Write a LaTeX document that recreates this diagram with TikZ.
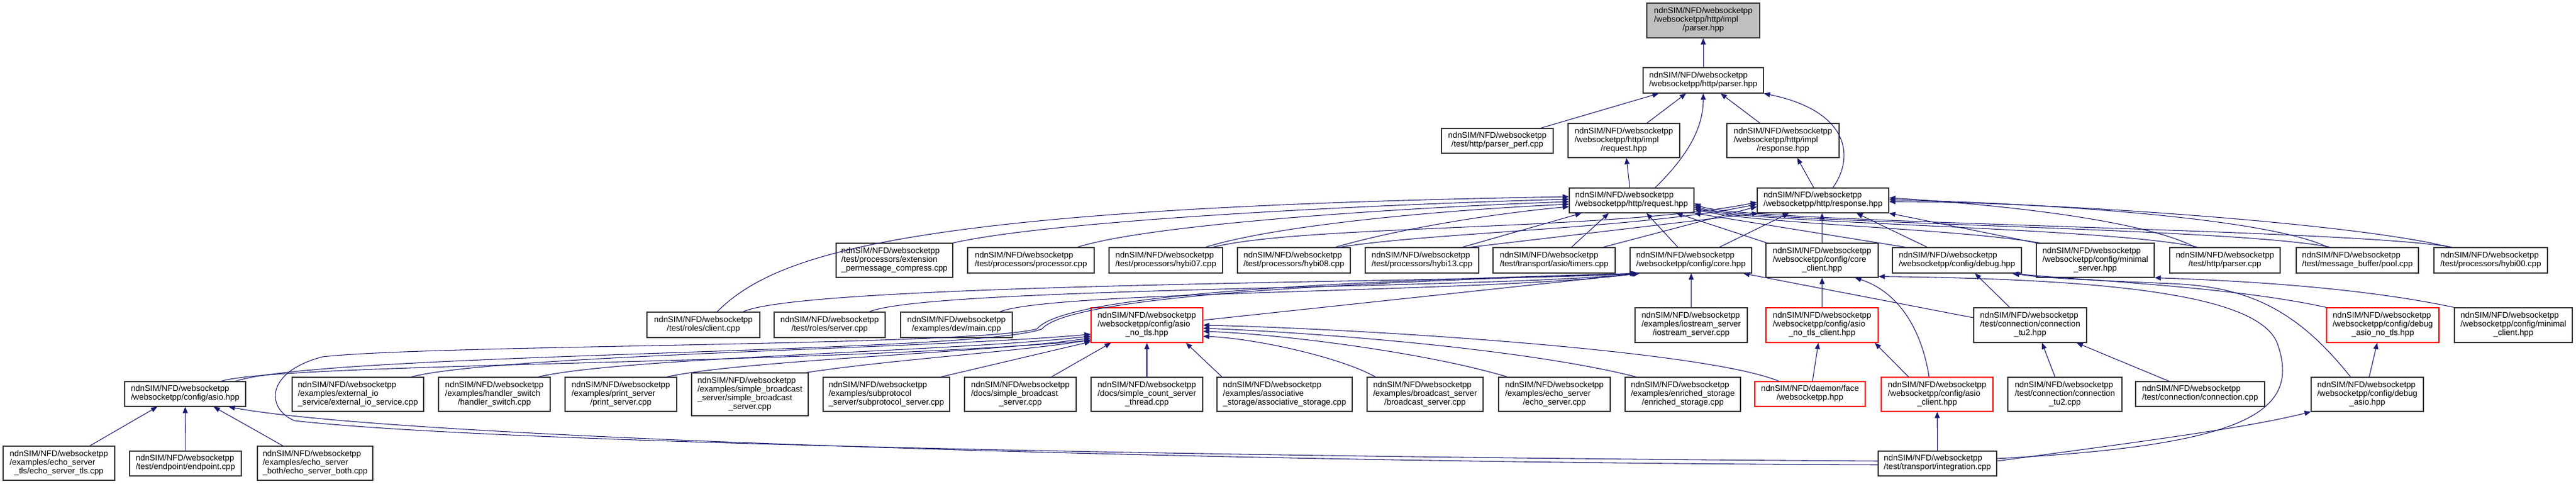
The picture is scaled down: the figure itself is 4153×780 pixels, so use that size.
\documentclass[tikz,border=0pt]{standalone}
\usepackage{fontspec}
\setmainfont{Liberation Sans}
\usetikzlibrary{arrows.meta,calc}
\definecolor{mblue}{RGB}{25,25,112}
\renewcommand{\arraystretch}{0.9375}
\newcommand{\labA}[2]{\begin{tabular}{@{}l@{}}#1\\\multicolumn{1}{@{}c@{}}{#2}\end{tabular}}
\newcommand{\labB}[3]{\begin{tabular}{@{}l@{}}#1\\#2\\\multicolumn{1}{@{}c@{}}{#3}\end{tabular}}
\newcommand{\labC}[4]{\begin{tabular}{@{}l@{}}#1\\#2\\#3\\\multicolumn{1}{@{}c@{}}{#4}\end{tabular}}
\newcommand{\bn}[6]{\node[nbox,#2,minimum width={(#5-#3)*0.75pt},minimum height={(#6-#4)*0.75pt}] (#1) at ({(#3+#5)/2},{(#4+#6)/2})}
\newcommand{\nw}{ndnSIM/NFD/websocketpp}
\begin{document}
\begin{tikzpicture}[x=0.75pt,y=-0.75pt,
  nbox/.style={draw=black!80,line width=0.9pt,fill=white,inner sep=0pt,font=\fontsize{10}{11.25}\selectfont},
  redb/.style={draw=red},
  grayb/.style={fill=black!25},
  dep/.style={draw=mblue,line width=0.8pt,-{Triangle[length=7.5pt,width=6pt]}}]
\useasboundingbox (0,0) rectangle (4153,780);
% ---- nodes ----
\bn{gray}{grayb}{2655}{5}{2837}{61}{\labB{\nw}{/websocketpp/http/impl}{/parser.hpp}};
\bn{parser}{}{2649}{109}{2843}{150}{\labA{\nw}{/websocketpp/http/parser.hpp}};
\bn{perf}{}{2324}{207}{2504}{247}{\labA{\nw}{/test/http/parser\_perf.cpp}};
\bn{reqimpl}{}{2528}{199}{2708}{254}{\labB{\nw}{/websocketpp/http/impl}{/request.hpp}};
\bn{respimpl}{}{2784}{199}{2965}{254}{\labB{\nw}{/websocketpp/http/impl}{/response.hpp}};
\bn{req}{}{2530}{303}{2731}{343}{\labA{\nw}{/websocketpp/http/request.hpp}};
\bn{resp}{}{2833}{303}{3045}{343}{\labA{\nw}{/websocketpp/http/response.hpp}};
% row 5
\bn{extc}{}{1348}{392}{1536}{447}{\labB{\nw}{/test/processors/extension}{\_permessage\_compress.cpp}};
\bn{proc}{}{1560}{399}{1764}{440}{\labA{\nw}{/test/processors/processor.cpp}};
\bn{hseven}{}{1788}{399}{1971}{440}{\labA{\nw}{/test/processors/hybi07.cpp}};
\bn{height}{}{1995}{399}{2177}{440}{\labA{\nw}{/test/processors/hybi08.cpp}};
\bn{hthirteen}{}{2201}{399}{2384}{440}{\labA{\nw}{/test/processors/hybi13.cpp}};
\bn{timers}{}{2407}{399}{2604}{440}{\labA{\nw}{/test/transport/asio/timers.cpp}};
\bn{core}{}{2628}{399}{2824}{440}{\labA{\nw}{/websocketpp/config/core.hpp}};
\bn{coreclient}{}{2847}{392}{3028}{447}{\labB{\nw}{/websocketpp/config/core}{\_client.hpp}};
\bn{debug}{}{3051}{399}{3259}{440}{\labA{\nw}{/websocketpp/config/debug.hpp}};
\bn{minserver}{}{3283}{392}{3473}{447}{\labB{\nw}{/websocketpp/config/minimal}{\_server.hpp}};
\bn{parsercpp}{}{3498}{399}{3676}{440}{\labA{\nw}{/test/http/parser.cpp}};
\bn{pool}{}{3702}{399}{3899}{440}{\labA{\nw}{/test/message\_buffer/pool.cpp}};
\bn{hzero}{}{3924}{399}{4107}{440}{\labA{\nw}{/test/processors/hybi00.cpp}};
% row 6
\bn{client}{}{1043}{503}{1225}{544}{\labA{\nw}{/test/roles/client.cpp}};
\bn{server}{}{1248}{503}{1427}{544}{\labA{\nw}{/test/roles/server.cpp}};
\bn{devmain}{}{1452}{503}{1632}{544}{\labA{\nw}{/examples/dev/main.cpp}};
\bn{asionotls}{redb}{1759}{496}{1939}{552}{\labB{\nw}{/websocketpp/config/asio}{\_no\_tls.hpp}};
\bn{iostream}{}{2636}{496}{2817}{552}{\labB{\nw}{/examples/iostream\_server}{/iostream\_server.cpp}};
\bn{asionotlsclient}{redb}{2847}{496}{3028}{552}{\labB{\nw}{/websocketpp/config/asio}{\_no\_tls\_client.hpp}};
\bn{conntuh}{}{3182}{496}{3364}{552}{\labB{\nw}{/test/connection/connection}{\_tu2.hpp}};
\bn{dbgasionotls}{redb}{3751}{496}{3932}{552}{\labB{\nw}{/websocketpp/config/debug}{\_asio\_no\_tls.hpp}};
\bn{minclient}{}{3957}{496}{4147}{552}{\labB{\nw}{/websocketpp/config/minimal}{\_client.hpp}};
% row 8
\bn{asio}{}{201}{615}{396}{655}{\labA{\nw}{/websocketpp/config/asio.hpp}};
\bn{extio}{}{471}{608}{683}{663}{\labB{\nw}{/examples/external\_io}{\_service/external\_io\_service.cpp}};
\bn{hswitch}{}{707}{608}{887}{663}{\labB{\nw}{/examples/handler\_switch}{/handler\_switch.cpp}};
\bn{print}{}{911}{608}{1091}{663}{\labB{\nw}{/examples/print\_server}{/print\_server.cpp}};
\bn{sbcast}{}{1115}{601}{1303}{670}{\labC{\nw}{/examples/simple\_broadcast}{\_server/simple\_broadcast}{\_server.cpp}};
\bn{subproto}{}{1327}{608}{1531}{663}{\labB{\nw}{/examples/subprotocol}{\_server/subprotocol\_server.cpp}};
\bn{docsbcast}{}{1555}{608}{1735}{663}{\labB{\nw}{/docs/simple\_broadcast}{\_server.cpp}};
\bn{countthread}{}{1759}{608}{1939}{663}{\labB{\nw}{/docs/simple\_count\_server}{\_thread.cpp}};
\bn{assoc}{}{1962}{608}{2180}{663}{\labB{\nw}{/examples/associative}{\_storage/associative\_storage.cpp}};
\bn{bcast}{}{2204}{608}{2391}{663}{\labB{\nw}{/examples/broadcast\_server}{/broadcast\_server.cpp}};
\bn{echo}{}{2416}{608}{2596}{663}{\labB{\nw}{/examples/echo\_server}{/echo\_server.cpp}};
\bn{enriched}{}{2620}{608}{2806}{663}{\labB{\nw}{/examples/enriched\_storage}{/enriched\_storage.cpp}};
\bn{daemon}{redb}{2829}{615}{3007}{655}{\labA{ndnSIM/NFD/daemon/face}{/websocketpp.hpp}};
\bn{asioclient}{redb}{3033}{608}{3213}{663}{\labB{\nw}{/websocketpp/config/asio}{\_client.hpp}};
\bn{conntucpp}{}{3237}{608}{3421}{663}{\labB{\nw}{/test/connection/connection}{\_tu2.cpp}};
\bn{conncpp}{}{3443}{615}{3651}{655}{\labA{\nw}{/test/connection/connection.cpp}};
\bn{dbgasio}{}{3726}{608}{3907}{663}{\labB{\nw}{/websocketpp/config/debug}{\_asio.hpp}};
% row 9
\bn{echotls}{}{5}{719}{185}{774}{\labB{\nw}{/examples/echo\_server}{\_tls/echo\_server\_tls.cpp}};
\bn{endpoint}{}{209}{727}{389}{767}{\labA{\nw}{/test/endpoint/endpoint.cpp}};
\bn{echoboth}{}{415}{719}{601}{774}{\labB{\nw}{/examples/echo\_server}{\_both/echo\_server\_both.cpp}};
\bn{integration}{}{3028}{727}{3219}{767}{\labA{\nw}{/test/transport/integration.cpp}};
% ---- edges: top ----
\draw[dep] (parser) -- (gray);
\draw[dep] (perf) -- (parser);
\draw[dep] (reqimpl) -- (parser);
\draw[dep] (respimpl) -- (parser);
\draw[dep] ($(req.north)+(38,0)$) .. controls (2722,250) and (2746,205) .. (parser.south);
\draw[dep] ($(resp.north)+(16,0)$) .. controls (2992,250) and (2978,178) .. (parser.south east);
\draw[dep] ($(req.north)+(-3,0)$) -- ($(reqimpl.south)+(4,0)$);
\draw[dep] ($(resp.north)+(-15,0)$) -- ($(respimpl.south)+(23,0)$);
% ---- edges: row 5 left to request/response ----
\draw[dep] ($(client.north)+(22,0)$) .. controls (1250,410) and (1450,335) .. ($(req.west)+(0,-6)$);
\draw[dep] (extc.north east) .. controls (1700,355) and (2200,330) .. ($(req.west)+(0,-2)$);
\draw[dep] ($(proc.north)+(75,0)$) .. controls (1850,362) and (2250,335) .. ($(req.west)+(0,2)$);
\draw[dep] ($(hseven.north)+(64,0)$) .. controls (2050,365) and (2300,340) .. ($(req.west)+(0,6)$);
\draw[dep] ($(height.north)+(67,0)$) .. controls (2250,370) and (2400,345) .. ($(req.west)+(0,10)$);
\draw[dep] ($(hseven.north)+(76,0)$) .. controls (2100,362) and (2600,372) .. ($(resp.west)+(0,3)$);
\draw[dep] ($(height.north)+(74,0)$) .. controls (2300,375) and (2650,368) .. ($(resp.west)+(0,6)$);
\draw[dep] ($(hthirteen.north)+(65,0)$) -- ($(req.south)+(-81,0)$);
\draw[dep] ($(hthirteen.north)+(78,0)$) -- ($(resp.south west)+(2,0)$);
\draw[dep] ($(timers.north)+(28,0)$) -- ($(req.south)+(-37,0)$);
\draw[dep] ($(timers.north)+(79,0)$) -- ($(resp.west)+(0,10)$);
% ---- edges: row 5 right to request/response ----
\draw[dep] ($(core.north)+(-21,0)$) -- ($(req.south)+(24,0)$);
\draw[dep] ($(core.north)+(46,0)$) -- ($(resp.south)+(-55,0)$);
\draw[dep] ($(coreclient.north west)+(2,0)$) -- ($(req.south)+(72,0)$);
\draw[dep] (coreclient.north) -- (coreclient.north |- resp.south);
\draw[dep] ($(debug.north)+(-83,0)$) -- (req.south east);
\draw[dep] ($(debug.north)+(-48,0)$) -- ($(resp.south)+(54,0)$);
\draw[dep] (minserver.north west) -- (resp.south east);
\draw[dep] ($(minserver.north west)+(6,0)$) .. controls (3150,368) and (2820,360) .. ($(req.east)+(0,14)$);
\draw[dep] ($(parsercpp.north)+(-48,0)$) .. controls (3450,352) and (3200,328) .. ($(resp.east)+(0,-4)$);
\draw[dep] ($(parsercpp.north)+(-44,0)$) .. controls (3400,366) and (2810,360) .. ($(req.east)+(0,11)$);
\draw[dep] ($(pool.north)+(-48,0)$) .. controls (3650,348) and (3250,326) .. ($(resp.east)+(0,-1)$);
\draw[dep] ($(pool.north)+(-44,0)$) .. controls (3600,366) and (2800,360) .. ($(req.east)+(0,8)$);
\draw[dep] ($(hzero.north)+(-66,0)$) .. controls (3800,360) and (3300,325) .. ($(resp.east)+(0,2)$);
\draw[dep] ($(hzero.north)+(-62,0)$) .. controls (3780,368) and (2800,360) .. ($(req.east)+(0,5)$);
% ---- edges: into core ----
\draw[dep] ($(client.north)+(64,0)$) .. controls (1300,455) and (2400,455) .. ($(core.south west)+(14,0)$);
\draw[dep] ($(server.north)+(64,0)$) .. controls (1500,462) and (2400,466) .. ($(core.south west)+(14,0)$);
\draw[dep] ($(devmain.north)+(70,0)$) .. controls (1700,468) and (2400,472) .. ($(core.south west)+(14,0)$);
\draw[dep] ($(asionotls.east)+(0,-8)$) -- ($(core.south west)+(16,0)$);
\draw[dep] (iostream.north) -- (iostream.north |- core.south);
\draw[dep] ($(conntuh.west)+(0,-12)$) -- ($(core.south east)+(-14,0)$);
\draw[dep] ($(asio.north)+(81,0)$) .. controls (520,568) and (1580,570) .. (1680,530) .. controls (1730,470) and (2300,452) .. ($(core.south west)+(12,0)$);
\draw[dep] ($(integration.west)+(0,-4)$) .. controls (2000,737) and (800,715) .. (475,678) .. controls (430,660) and (425,600) .. (520,575) .. controls (700,555) and (1570,558) .. (1672,530) .. controls (1722,466) and (2300,450) .. ($(core.south west)+(10,0)$);
\draw[dep] ($(integration.west)+(0,2)$) .. controls (2000,746) and (650,708) .. ($(asio.south east)+(-28,0)$);
% ---- edges: into asio_no_tls ----
\draw[dep] ($(asio.north)+(58,0)$) .. controls (450,585) and (1300,588) .. ($(asionotls.south west)+(0,-4)$);
\draw[dep] ($(extio.north)+(86,0)$) .. controls (800,572) and (1500,562) .. ($(asionotls.south west)+(0,-14)$);
\draw[dep] ($(hswitch.north)+(71,0)$) .. controls (1000,576) and (1550,566) .. ($(asionotls.south west)+(0,-11)$);
\draw[dep] ($(print.north)+(74,0)$) .. controls (1200,580) and (1600,568) .. ($(asionotls.south west)+(0,-8)$);
\draw[dep] ($(sbcast.north east)+(-4,0)$) .. controls (1450,578) and (1650,566) .. ($(asionotls.south west)+(0,-5)$);
\draw[dep] ($(subproto.north)+(88,0)$) -- ($(asionotls.south west)+(0,-2)$);
\draw[dep] ($(docsbcast.north)+(50,0)$) -- ($(asionotls.south)+(-58,0)$);
\draw[dep] (countthread) -- (asionotls);
\draw[dep] ($(assoc.north)+(-101,0)$) -- ($(asionotls.south)+(63,0)$);
\draw[dep] ($(bcast.north)+(-80,0)$) .. controls (2160,575) and (2020,545) .. ($(asionotls.east)+(0,18)$);
\draw[dep] ($(echo.north)+(-76,0)$) .. controls (2300,568) and (2060,538) .. ($(asionotls.east)+(0,10)$);
\draw[dep] ($(enriched.north)+(-75,0)$) .. controls (2450,560) and (2100,535) .. ($(asionotls.east)+(0,5)$);
\draw[dep] ($(daemon.north)+(-50,0)$) .. controls (2750,565) and (2200,530) .. (asionotls.east);
% ---- edges: right part ----
\draw[dep] ($(daemon.north)+(4,0)$) -- ($(asionotlsclient.south)+(-6,0)$);
\draw[dep] (asionotlsclient) -- (coreclient);
\draw[dep] ($(asioclient.north)+(-46,0)$) -- ($(asionotlsclient.south east)+(-6,0)$);
\draw[dep] ($(asioclient.north)+(-13,0)$) .. controls (3098,530) and (3060,470) .. ($(coreclient.south east)+(-38,0)$);
\draw[dep] (integration) -- (asioclient);
\draw[dep] ($(integration.east)+(0,-4)$) .. controls (3450,712) and (3620,690) .. (dbgasio.south west);
\draw[dep] ($(integration.east)+(0,-8)$) .. controls (3620,718) and (3710,665) .. (3672,555) .. controls (3647,483) and (3450,450) .. ($(coreclient.south east)+(0,-2)$);
\draw[dep] ($(dbgasio.north)+(-27,0)$) .. controls (3700,495) and (3620,462) .. (3500,457) .. controls (3380,452) and (3290,448) .. ($(debug.south east)+(-14,0)$);
\draw[dep] ($(dbgasio.north)+(3,0)$) -- ($(dbgasionotls.south)+(-9,0)$);
\draw[dep] (dbgasionotls.north west) .. controls (3600,462) and (3360,452) .. ($(debug.south east)+(-16,0)$);
\draw[dep] (minclient.north west) .. controls (3800,462) and (3600,452) .. (minserver.south east);
\draw[dep] ($(conntuh.north)+(-33,0)$) -- ($(debug.south)+(29,0)$);
\draw[dep] ($(conntucpp.north)+(-16,0)$) -- ($(conntuh.south)+(19,0)$);
\draw[dep] ($(conncpp.north)+(-50,0)$) -- ($(conntuh.south)+(75,0)$);
% ---- edges: into asio.hpp ----
\draw[dep] ($(echotls.north)+(50,0)$) -- ($(asio.south)+(-45,0)$);
\draw[dep] (endpoint) -- (asio);
\draw[dep] ($(echoboth.north)+(-52,0)$) -- ($(asio.south)+(46,0)$);
\end{tikzpicture}
\end{document}
